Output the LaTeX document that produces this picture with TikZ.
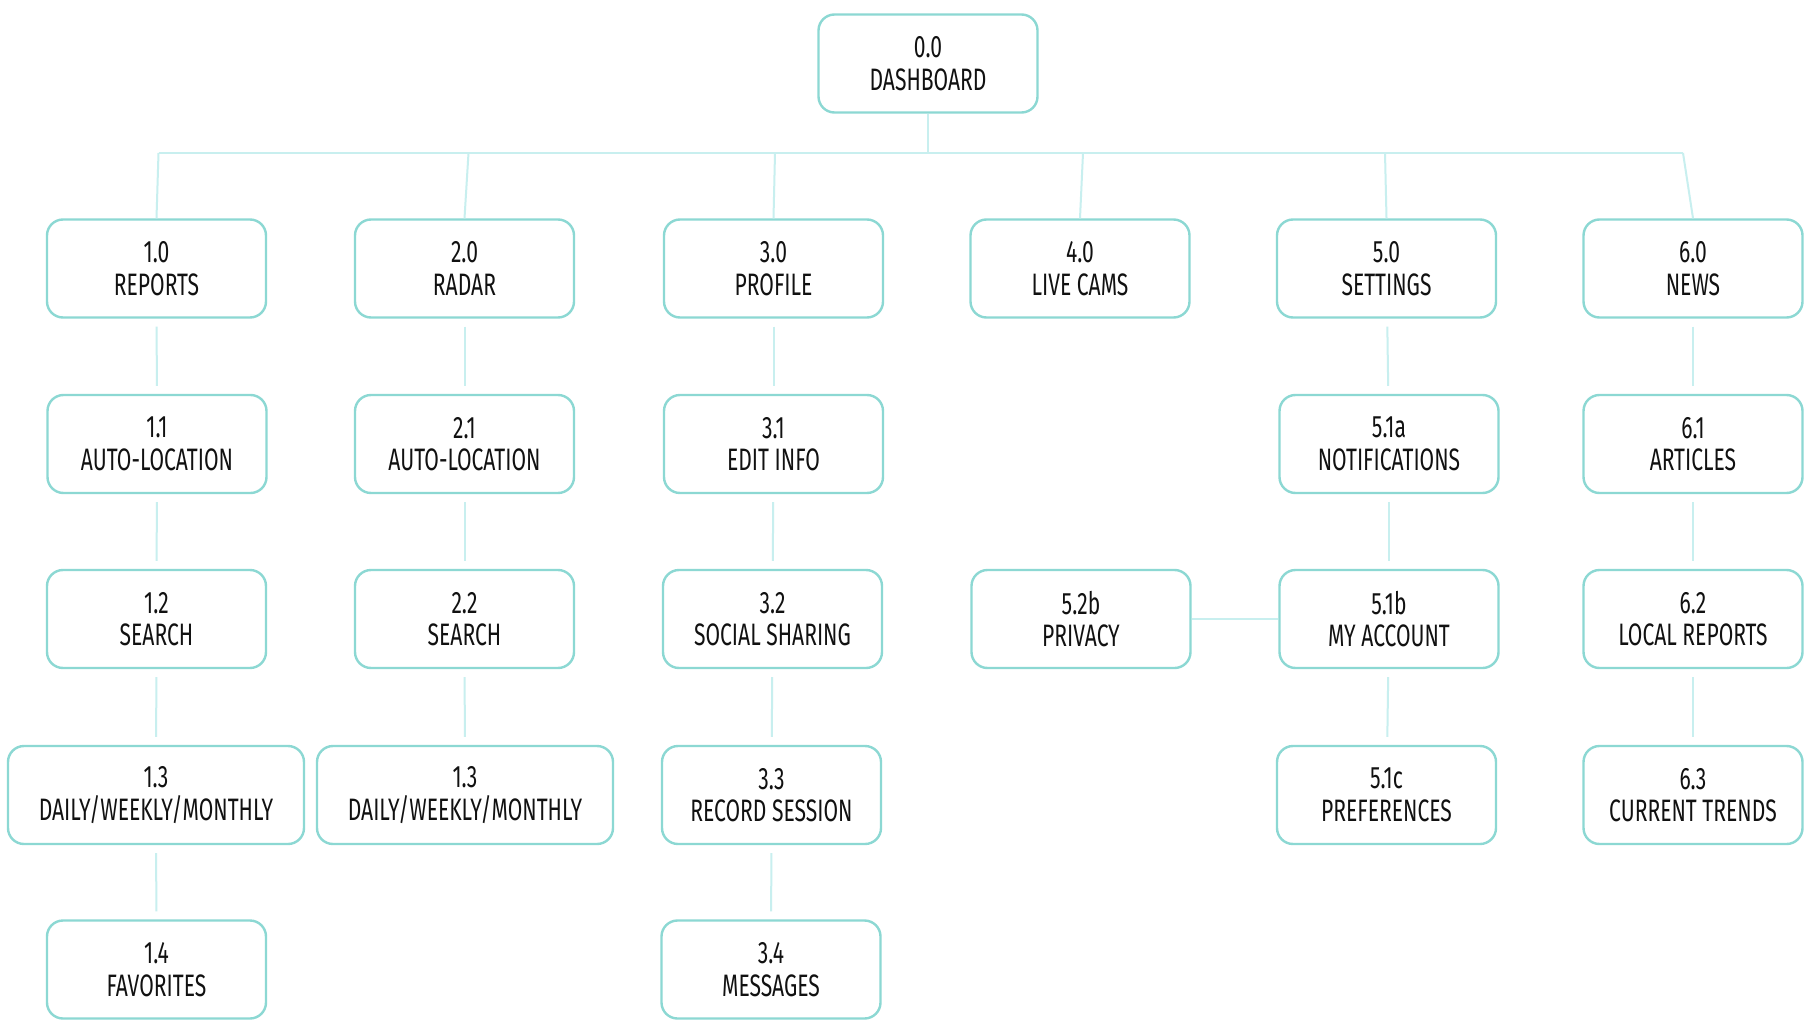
\documentclass[tikz,border=0pt]{standalone}
\usepackage{fontspec}
\IfFontExistsTF{Fira Sans Book}
  {\setmainfont{Fira Sans Book}[FakeStretch=0.68]}
  {\setmainfont{Fira Sans}[FakeStretch=0.68]}
\definecolor{boxline}{HTML}{8CD8D3}
\definecolor{linkline}{HTML}{C8EFEF}
\definecolor{ink}{HTML}{111111}
\begin{document}
\begin{tikzpicture}[x=1pt,y=-1pt,
  card/.style={draw=boxline, line width=2.4pt, rounded corners=16pt,
    minimum width=219pt, minimum height=98pt, inner sep=0pt,
    align=center, text=ink, font=\fontsize{31}{32.5}\selectfont},
  wide/.style={card, minimum width=296pt},
  link/.style={draw=linkline, line width=2pt},
  gap/.style={link, shorten <=8pt, shorten >=8pt}]
\useasboundingbox[fill=white] (0,0) rectangle (1814,1032);

% root
\node[card] (d) at (928,63.5) {0.0\\DASHBOARD};

% first level
\node[card] (n10) at (156.5,268.5) {1.0\\REPORTS};
\node[card] (n20) at (464.5,268.5) {2.0\\RADAR};
\node[card] (n30) at (773.5,268.5) {3.0\\PROFILE};
\node[card] (n40) at (1080,268.5) {4.0\\LIVE CAMS};
\node[card] (n50) at (1386.5,268.5) {5.0\\SETTINGS};
\node[card] (n60) at (1693,268.5) {6.0\\NEWS};

% second level
\node[card] (n11) at (157,444) {1.1\\AUTO-LOCATION};
\node[card] (n21) at (464.5,444) {2.1\\AUTO-LOCATION};
\node[card] (n31) at (773.5,444) {3.1\\EDIT INFO};
\node[card] (n51a) at (1389,444) {5.1a\\NOTIFICATIONS};
\node[card] (n61) at (1693,444) {6.1\\ARTICLES};

% third level
\node[card] (n12) at (156.5,619) {1.2\\SEARCH};
\node[card] (n22) at (464.5,619) {2.2\\SEARCH};
\node[card] (n32) at (772.5,619) {3.2\\SOCIAL SHARING};
\node[card] (n52b) at (1081,619) {5.2b\\PRIVACY};
\node[card] (n51b) at (1389,619) {5.1b\\MY ACCOUNT};
\node[card] (n62) at (1693,619) {6.2\\LOCAL REPORTS};

% fourth level
\node[wide] (n13) at (156,795) {1.3\\DAILY/WEEKLY/MONTHLY};
\node[wide] (n23) at (465,795) {1.3\\DAILY/WEEKLY/MONTHLY};
\node[card] (n33) at (771.5,795) {3.3\\RECORD SESSION};
\node[card] (n51c) at (1386.5,795) {5.1c\\PREFERENCES};
\node[card] (n63) at (1693,795) {6.3\\CURRENT TRENDS};

% fifth level
\node[card] (n14) at (156.5,969.5) {1.4\\FAVORITES};
\node[card] (n34) at (771,969.5) {3.4\\MESSAGES};

% bus under the root
\coordinate (bd) at (928,153);
\coordinate (b1) at (158.5,153);
\coordinate (b2) at (468.5,153);
\coordinate (b3) at (775,153);
\coordinate (b4) at (1083,153);
\coordinate (b5) at (1385,153);
\coordinate (b6) at (1683,153);

\draw[link] (d) -- (bd);
\draw[link] (b1) -- (b6);
\draw[link] (b1) -- (n10.north);
\draw[link] (b2) -- (n20.north);
\draw[link] (b3) -- (n30.north);
\draw[link] (b4) -- (n40.north);
\draw[link] (b5) -- (n50.north);
\draw[link] (b6) -- (n60.north);

% columns
\draw[gap] (n10) -- (n11);
\draw[gap] (n11) -- (n12);
\draw[gap] (n12) -- (n13);
\draw[gap] (n13) -- (n14);

\draw[gap] (n20) -- (n21);
\draw[gap] (n21) -- (n22);
\draw[gap] (n22) -- (n23);

\draw[gap] (n30) -- (n31);
\draw[gap] (n31) -- (n32);
\draw[gap] (n32) -- (n33);
\draw[gap] (n33) -- (n34);

\draw[gap] (n50) -- (n51a);
\draw[gap] (n51a) -- (n51b);
\draw[gap] (n51b) -- (n51c);
\draw[link] (n52b) -- (n51b);

\draw[gap] (n60) -- (n61);
\draw[gap] (n61) -- (n62);
\draw[gap] (n62) -- (n63);
\end{tikzpicture}
\end{document}
